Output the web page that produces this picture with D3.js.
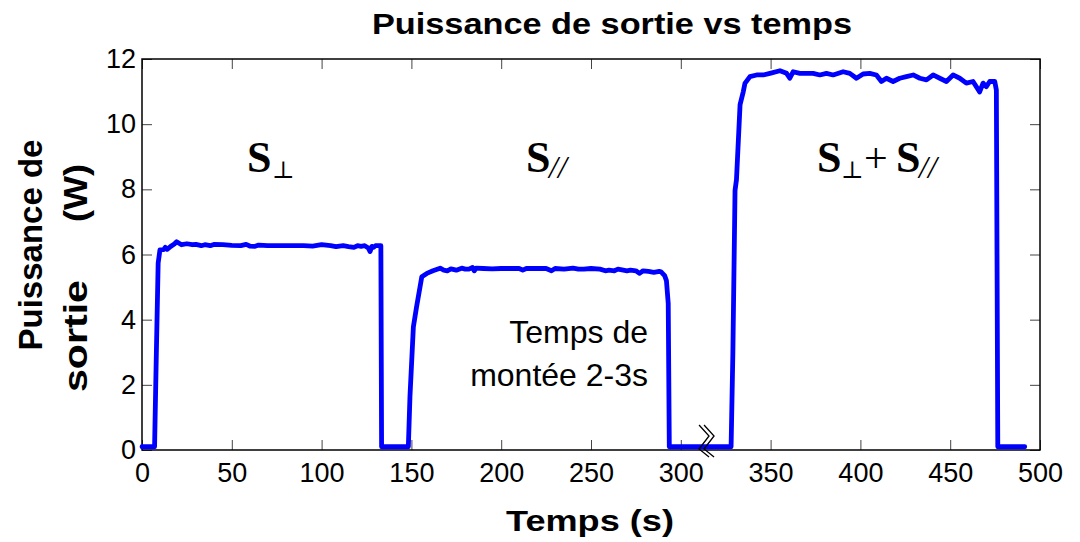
<!DOCTYPE html>
<html><head><meta charset="utf-8">
<script src="https://cdn.jsdelivr.net/npm/d3@7"></script>
<style>body{margin:0;background:#fff}svg{display:block}</style>
</head><body>
<svg id="c" width="1080" height="542"></svg>
<script>
// ---- data ----
const xTicks = [0,50,100,150,200,250,300,350,400,450,500];
const yTicks = [0,2,4,6,8,10,12];
const timeS = [
 0,7,8,9,10,12,13,14,16,18,19.3,22,25,28,30,33,35,38,40,45,50,55,58,60,63,65,70,75,80,85,90,95,100,105,108,110,112,115,118,120,122,124,126,127,128,129,130,133,133.4,
 148.3,149.2,151.1,152.9,155.8,158.6,162,166,168,170,172,175,178,180,182,184,185,186,190,195,200,205,210,212,214,220,225,228,230,235,240,243,246,250,255,258,260,263,265,268,270,272,275,277,279,282,285,288,289,291,292,293,293.6,
 328,329,330.2,331,333,334.8,335.7,338.5,342.2,345.9,349.6,355.2,358.9,360.7,362.6,366.3,370,373.7,377.4,381.1,384.8,390.4,394.1,397.8,401.5,405.2,408.9,411.7,414.5,418.2,421.9,425.6,429.4,433.1,436.8,440.5,444.2,447.9,451.6,455.3,459,462.7,466.4,468.3,470.1,472,474.8,475.7,476.5,
 491.5];
const powerW = [
 0.1,0.1,3.0,5.74,6.14,6.15,6.22,6.16,6.25,6.32,6.39,6.3,6.33,6.3,6.31,6.27,6.3,6.27,6.31,6.3,6.28,6.27,6.31,6.26,6.25,6.29,6.27,6.27,6.27,6.27,6.27,6.26,6.3,6.27,6.24,6.26,6.27,6.24,6.22,6.27,6.25,6.27,6.2,6.09,6.25,6.22,6.27,6.27,0.1,
 0.1,1.64,3.78,4.4,5.32,5.42,5.5,5.58,5.52,5.5,5.56,5.52,5.58,5.55,5.55,5.6,5.5,5.58,5.57,5.56,5.57,5.57,5.57,5.52,5.57,5.57,5.57,5.5,5.57,5.55,5.58,5.55,5.55,5.57,5.55,5.5,5.52,5.5,5.55,5.52,5.5,5.52,5.5,5.42,5.5,5.48,5.45,5.48,5.47,5.35,5.2,4.5,0.1,
 0.1,3.0,7.97,8.3,10.6,11.0,11.25,11.46,11.51,11.51,11.56,11.64,11.56,11.41,11.61,11.56,11.56,11.56,11.51,11.56,11.51,11.61,11.56,11.41,11.54,11.56,11.51,11.31,11.41,11.31,11.41,11.46,11.51,11.41,11.36,11.51,11.41,11.31,11.51,11.41,11.26,11.31,10.99,11.26,11.15,11.31,11.31,11.05,0.1,
 0.1];
const titleText = "Puissance de sortie vs temps";
const xLabel = "Temps (s)";
const yLabel1 = "Puissance de";
const yLabel2a = "sortie  ";
const yLabel2b = "(W)";
const note1 = "Temps de";
const note2 = "montée 2-3s";

// ---- chart ----
const svg = d3.select("#c");
const L=142, R=1040, T=59, B=450;
const x = d3.scaleLinear().domain([0,500]).range([L,R]);
const y = d3.scaleLinear().domain([0,12]).range([B,T]);
const sans = "Arial, 'Liberation Sans', Helvetica, sans-serif";
const serif = "'Times New Roman', 'Liberation Serif', serif";

function styleAxis(g){
  g.select(".domain").remove();
  g.selectAll(".tick line").attr("stroke","#444").attr("stroke-width",1);
  g.selectAll(".tick text").attr("fill","#000").style("font-family",sans).style("font-size","27px");
}
svg.append("g").attr("transform",`translate(0,${B})`)
  .call(d3.axisBottom(x).tickValues(xTicks).tickSize(-10).tickPadding(13).tickFormat(d3.format("d")))
  .call(styleAxis);
svg.append("g").attr("transform",`translate(0,${T})`)
  .call(d3.axisTop(x).tickValues(xTicks).tickSize(-10).tickFormat(""))
  .call(styleAxis);
svg.append("g").attr("transform",`translate(${L},0)`)
  .call(d3.axisLeft(y).tickValues(yTicks).tickSize(-10).tickPadding(6).tickFormat(d3.format("d")))
  .call(styleAxis);
svg.append("g").attr("transform",`translate(${R},0)`)
  .call(d3.axisRight(y).tickValues(yTicks).tickSize(-10).tickFormat(""))
  .call(styleAxis);

svg.append("rect").attr("x",L).attr("y",T).attr("width",R-L).attr("height",B-T)
  .attr("fill","none").attr("stroke","#000").attr("stroke-width",1.5);

const line = d3.line().x((d,i)=>x(timeS[i])).y(d=>y(d));
svg.append("path").datum(powerW).attr("d",line)
  .attr("fill","none").attr("stroke","#0000ff").attr("stroke-width",4.8)
  .attr("stroke-linejoin","round").attr("stroke-linecap","round");

// axis break marks
const bx = x(313.5);
[0,5].forEach(o=>{
  svg.append("path")
    .attr("d",`M${bx-6+o},${B-25} L${bx+4+o},${B-14} L${bx-6+o},${B-1} L${bx+4+o},${B+7}`)
    .attr("fill","none").attr("stroke","#000").attr("stroke-width",1.3);
});

// title & labels
svg.append("text").attr("x",612).attr("y",34).attr("text-anchor","middle")
  .attr("textLength",480).attr("lengthAdjust","spacingAndGlyphs")
  .style("font-family",sans).style("font-weight","bold").style("font-size","30px").text(titleText);
svg.append("text").attr("x",590).attr("y",531).attr("text-anchor","middle")
  .attr("textLength",168).attr("lengthAdjust","spacingAndGlyphs")
  .style("font-family",sans).style("font-weight","bold").style("font-size","30px").text(xLabel);
svg.append("text").attr("transform","translate(42,245) rotate(-90)").attr("text-anchor","middle")
  .style("font-family",sans).style("font-weight","bold").style("font-size","33px").text(yLabel1);
const yl2 = svg.append("text").attr("transform","translate(87,392) rotate(-90)")
  .attr("xml:space","preserve").style("white-space","pre")
  .style("font-family",sans).style("font-weight","bold").style("font-size","33px");
yl2.append("tspan").attr("x",0).text(yLabel2a);
yl2.append("tspan").attr("x",170).attr("textLength",58).attr("lengthAdjust","spacingAndGlyphs").text(yLabel2b);
yl2.select("tspan").attr("textLength",112).attr("lengthAdjust","spacingAndGlyphs").text(yLabel2a.trim());

svg.append("text").attr("x",648).attr("y",343).attr("text-anchor","end")
  .style("font-family",sans).style("font-size","32px").text(note1);
svg.append("text").attr("x",648).attr("y",386).attr("text-anchor","end")
  .style("font-family",sans).style("font-size","32px").text(note2);

// S annotations
function S(xp){ svg.append("text").attr("x",xp).attr("y",172)
  .style("font-family",serif).style("font-weight","bold").style("font-size","44px").text("S"); }
function perp(xp){ svg.append("text").attr("x",xp).attr("y",178)
  .style("font-family","'DejaVu Serif', serif").style("font-size","24px").text("⊥"); }
function par(xp){ svg.append("text").attr("x",xp).attr("y",178)
  .style("font-family",serif).style("font-style","italic").style("font-size","32px").text("//"); }
S(247); perp(272);
S(526); par(549);
S(817); perp(841);
svg.append("text").attr("x",864).attr("y",172)
  .style("font-family",serif).style("font-size","42px").text("+");
S(896); par(919);
</script>
</body></html>
